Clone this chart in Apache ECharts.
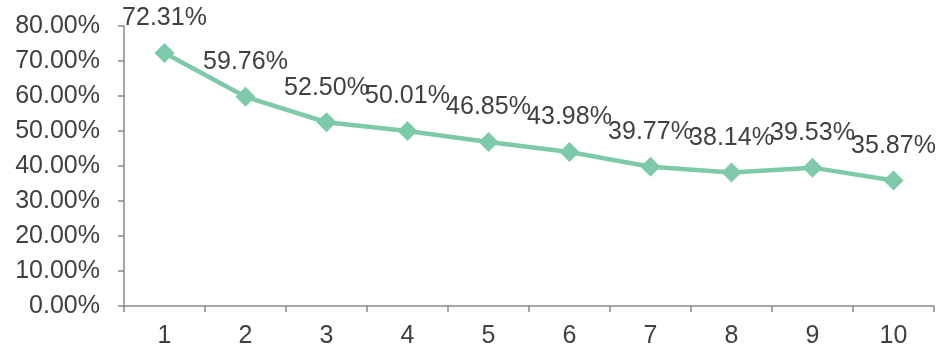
<!DOCTYPE html>
<html>
<head>
<meta charset="utf-8">
<script src="https://cdn.jsdelivr.net/npm/echarts@6/dist/echarts.min.js"></script>
<style>
  html, body { margin: 0; padding: 0; background: #fff; }
  #chart { width: 938px; height: 349px; }
</style>
</head>
<body>
<div id="chart"></div>
<script>
// Category labels along the x axis
const categories = ['1', '2', '3', '4', '5', '6', '7', '8', '9', '10'];
// Rate per category, in percent
const rates = [72.31, 59.76, 52.50, 50.01, 46.85, 43.98, 39.77, 38.14, 39.53, 35.87];

const textColor = '#404040';
const axisColor = '#898989';
const lineColor = '#7dcaa8';
const font = 'Liberation Sans, Arial, sans-serif';
const fontSize = 25;

const chart = echarts.init(document.getElementById('chart'));
chart.setOption({
  animation: false,
  grid: { left: 124, right: 4, top: 26, bottom: 43 },
  xAxis: {
    type: 'category',
    data: categories,
    boundaryGap: true,
    axisLine: { lineStyle: { color: axisColor, width: 1.5 } },
    axisTick: { show: true, length: 6, alignWithLabel: false, lineStyle: { color: axisColor, width: 1.5 } },
    axisLabel: { color: textColor, fontSize: fontSize, fontFamily: font, margin: 18 },
    splitLine: { show: false }
  },
  yAxis: {
    type: 'value',
    min: 0,
    max: 80,
    interval: 10,
    axisLine: { show: true, lineStyle: { color: axisColor, width: 1.5 } },
    axisTick: { show: true, length: 6, lineStyle: { color: axisColor, width: 1.5 } },
    axisLabel: {
      color: textColor, fontSize: fontSize, fontFamily: font, margin: 24,
      formatter: v => v.toFixed(2) + '%'
    },
    splitLine: { show: false }
  },
  series: [{
    type: 'line',
    data: rates,
    symbol: 'diamond',
    symbolSize: 20,
    lineStyle: { color: lineColor, width: 4.5 },
    itemStyle: { color: lineColor },
    label: {
      show: true,
      position: 'top',
      distance: 12,
      color: textColor,
      fontSize: fontSize,
      fontFamily: font,
      formatter: p => p.value.toFixed(2) + '%'
    }
  }]
});
</script>
</body>
</html>
